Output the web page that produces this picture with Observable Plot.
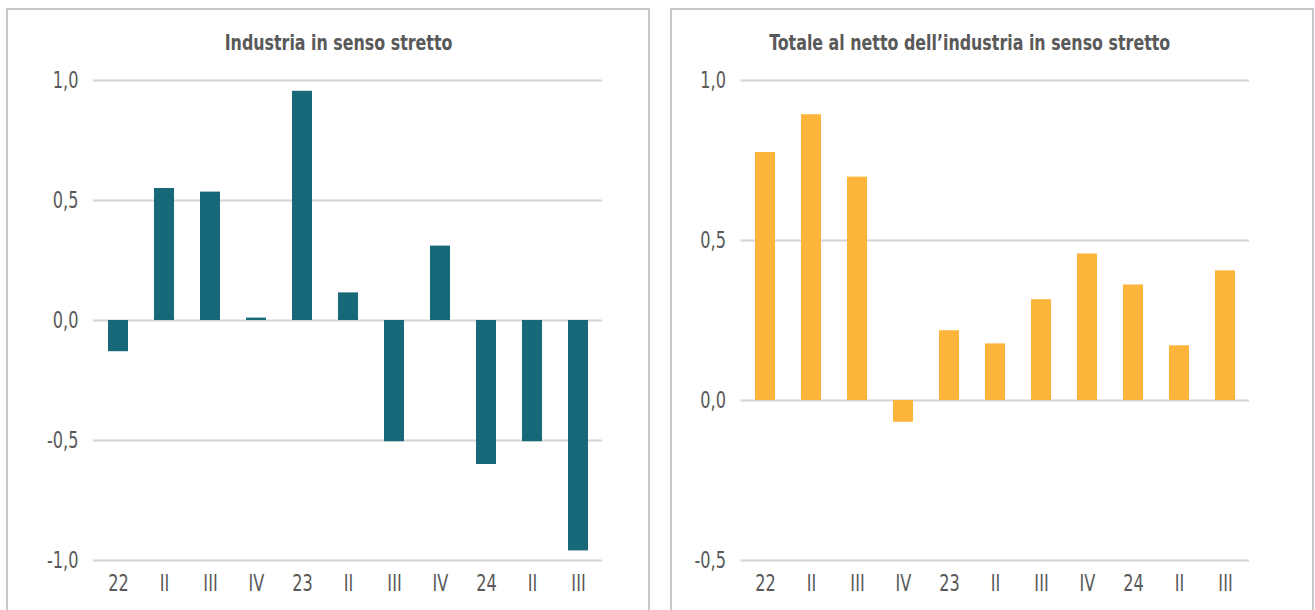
<!DOCTYPE html>
<html>
<head>
<meta charset="utf-8">
<script src="https://cdn.jsdelivr.net/npm/d3@7"></script>
<script src="https://cdn.jsdelivr.net/npm/@observablehq/plot@0.6"></script>
<style>
  html, body { margin: 0; padding: 0; background: #fff; }
  body { width: 1315px; height: 610px; overflow: hidden; position: relative;
         font-family: "DejaVu Sans Condensed", "DejaVu Sans", sans-serif; }
  .panel { position: absolute; border: 2px solid #c8c8c8; box-sizing: border-box; background: #fff; }
  .title { position: absolute; font-weight: bold; font-size: 21px; color: #595959; text-align: center;
           white-space: nowrap; line-height: 1; }
  .title span { display: inline-block; transform: scaleX(0.84); transform-origin: 50% 50%; }
  .chart { position: absolute; top: 0; }
</style>
</head>
<body>
<div class="panel" style="left:6px; top:8px; width:644px; height:620px;"></div>
<div class="panel" style="left:670px; top:8px; width:644px; height:620px;"></div>
<div class="title" style="left:139px; width:400px; top:33px;"><span id="t1"></span></div>
<div class="title" style="left:720px; width:500px; top:33px;"><span id="t2"></span></div>
<div class="chart" id="c1" style="left:0px;"></div>
<div class="chart" id="c2" style="left:660px;"></div>
<script>
// ---- data ----
const quarters = ["2022T1","2022T2","2022T3","2022T4","2023T1","2023T2","2023T3","2023T4","2024T1","2024T2","2024T3"];
const tickLabels = ["22","II","III","IV","23","II","III","IV","24","II","III"];
const industria = [-0.13, 0.55, 0.535, 0.01, 0.955, 0.115, -0.505, 0.31, -0.60, -0.505, -0.96];
const totale = [0.775, 0.893, 0.698, -0.068, 0.218, 0.177, 0.315, 0.458, 0.361, 0.171, 0.405];
const titles = ["Industria in senso stretto", "Totale al netto dell\u2019industria in senso stretto"];
const yTicksLeft = [-1, -0.5, 0, 0.5, 1];
const yTicksRight = [-0.5, 0, 0.5, 1];
const colors = ["#17697a", "#fcb53a"];

document.getElementById("t1").textContent = titles[0];
document.getElementById("t2").textContent = titles[1];

const fmt = v => v.toFixed(1).replace(".", ",");
const labelOf = q => tickLabels[quarters.indexOf(q)];

function makeChart(values, color, yDomain, yTicks, opts) {
  const data = quarters.map((q, i) => ({q, v: values[i]}));
  return Plot.plot({
    width: opts.width,
    height: 610,
    marginLeft: opts.marginLeft,
    marginRight: opts.marginRight,
    marginTop: 80,
    marginBottom: 50,
    style: {fontFamily: '"DejaVu Sans Condensed", "DejaVu Sans", sans-serif', fontSize: "23px", color: "#595959", background: "transparent"},
    x: {domain: quarters, paddingInner: 0.57, paddingOuter: 0.285, label: null},
    y: {domain: yDomain, label: null},
    marks: [
      Plot.ruleY(yTicks, {stroke: "#d4d4d4", strokeWidth: 2}),
      Plot.barY(data, {x: "q", y: "v", fill: color}),
      Plot.axisY({ticks: yTicks, tickFormat: fmt, tickSize: 0, tickPadding: 15, label: null, fill: "#595959"}),
      Plot.axisX({tickFormat: labelOf, tickSize: 0, tickPadding: 14, label: null, fill: "#595959"})
    ]
  });
}

function condense(svg, factor) {
  svg.querySelectorAll("text").forEach(t => {
    const len = t.getComputedTextLength();
    if (len > 0) {
      t.setAttribute("textLength", (len * factor).toFixed(2));
      t.setAttribute("lengthAdjust", "spacingAndGlyphs");
    }
  });
}

const s1 = makeChart(industria, colors[0], [-1, 1], yTicksLeft, {width: 649, marginLeft: 93, marginRight: 47});
document.getElementById("c1").append(s1);
condense(s1, 0.78);
const s2 = makeChart(totale, colors[1], [-0.5, 1], yTicksRight, {width: 655, marginLeft: 80.5, marginRight: 66});
document.getElementById("c2").append(s2);
condense(s2, 0.78);
</script>
</body>
</html>
